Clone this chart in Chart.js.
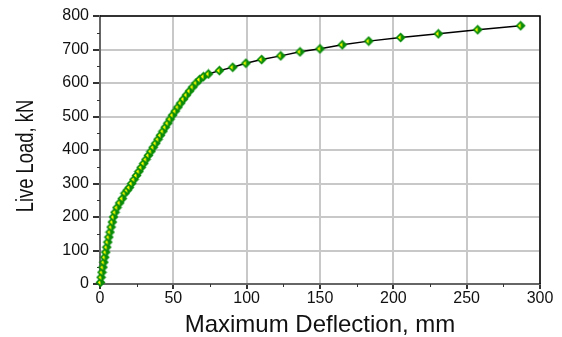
<!DOCTYPE html>
<html>
<head>
<meta charset="utf-8">
<script src="https://cdn.jsdelivr.net/npm/chart.js@4/dist/chart.umd.min.js"></script>
<style>
  html, body { margin: 0; padding: 0; background: #fff; }
</style>
</head>
<body>
<canvas id="grafico" width="562" height="337"></canvas>
<script>
// dados
const deflexao = [0.3, 0.8, 1.4, 2.0, 2.6, 3.2, 3.9, 4.6, 5.3, 6.0, 6.8, 7.6, 8.4, 9.2, 10.3, 11.6, 13.4, 15.2, 17.0, 18.6,
  20.0, 21.6, 23.2, 24.9, 26.5, 28.1, 29.8, 31.4, 33.0, 34.7, 36.3, 38.0, 39.6, 41.2, 42.9, 44.5, 46.2, 47.8, 49.5,
  51.3, 53.1, 55.0, 56.9, 58.9, 61.0, 63.2, 65.5, 67.8, 70.5, 73.9,
  81.4, 90.5, 99.5, 110.2, 123.2, 136.4, 150.0, 165.2, 183.2, 205.0, 230.7, 257.5, 286.8];
const carga = [5, 20, 35, 50, 65, 80, 95, 110, 125, 140, 155, 170, 185, 200, 214, 228, 242, 255, 271, 280,
  288, 300, 312, 324, 336, 348, 360, 372, 384, 396, 408, 420, 432, 444, 456, 468, 480, 492, 504,
  516, 528, 540, 552, 564, 576, 588, 600, 610, 619, 627,
  637, 647, 659, 670, 681, 693, 702, 714, 725, 736, 747, 759, 771];
const ticksX = [0, 50, 100, 150, 200, 250, 300];
const ticksY = [0, 100, 200, 300, 400, 500, 600, 700, 800];
const menoresX = [25, 75, 125, 175, 225, 275];
const menoresY = [50, 150, 250, 350, 450, 550, 650, 750];

// marcador: losango verde com triângulo amarelo
function marcador() {
  const c = document.createElement('canvas');
  c.width = 11; c.height = 11;
  const g = c.getContext('2d');
  g.fillStyle = '#0a8c0a';
  g.beginPath();
  g.moveTo(5.5, 0.5); g.lineTo(10.5, 5.5); g.lineTo(5.5, 10.5); g.lineTo(0.5, 5.5);
  g.closePath(); g.fill();
  g.fillStyle = '#ffff00';
  g.beginPath();
  g.moveTo(5.5, 3); g.lineTo(5.5, 8); g.lineTo(2.8, 5.5);
  g.closePath(); g.fill();
  return c;
}

const pontos = deflexao.map((v, i) => ({ x: v, y: carga[i] }));

// moldura, marcas menores e título do eixo y (estreito)
const moldura = {
  id: 'moldura',
  beforeDatasetsDraw(chart) {
    const { ctx, chartArea: a, scales: { x, y } } = chart;
    ctx.save();
    ctx.strokeStyle = '#000';
    ctx.lineWidth = 1.5;
    ctx.beginPath();
    ctx.moveTo(a.left, a.top);
    ctx.lineTo(a.right, a.top);
    ctx.lineTo(a.right, a.bottom);
    ctx.stroke();
    ctx.strokeStyle = '#333';
    ctx.lineWidth = 1;
    ctx.beginPath();
    menoresX.forEach(v => {
      const px = Math.round(x.getPixelForValue(v)) + 0.5;
      ctx.moveTo(px, a.bottom); ctx.lineTo(px, a.bottom + 3);
    });
    menoresY.forEach(v => {
      const py = Math.round(y.getPixelForValue(v)) + 0.5;
      ctx.moveTo(a.left, py); ctx.lineTo(a.left - 3, py);
    });
    ctx.stroke();
    ctx.restore();
  },
  afterDraw(chart) {
    const ctx = chart.ctx;
    ctx.save();
    ctx.translate(27, 156);
    ctx.rotate(-Math.PI / 2);
    ctx.scale(0.8, 1);
    ctx.fillStyle = '#111';
    ctx.font = '23px "Liberation Sans"';
    ctx.textAlign = 'center';
    ctx.textBaseline = 'middle';
    ctx.fillText('Live Load, kN', 0, 0);
    ctx.restore();
  }
};

const ctx = document.getElementById('grafico').getContext('2d');
new Chart(ctx, {
  type: 'scatter',
  data: {
    datasets: [{
      data: pontos,
      showLine: true,
      borderColor: '#000',
      borderWidth: 1.5,
      pointStyle: marcador(),
      pointRadius: 5,
      clip: false
    }]
  },
  options: {
    responsive: false,
    animation: false,
    layout: { padding: { top: 16, right: 22, left: 0, bottom: 0 } },
    plugins: { legend: { display: false }, tooltip: { enabled: false } },
    scales: {
      x: {
        type: 'linear', min: 0, max: 300,
        afterBuildTicks: s => { s.ticks = ticksX.map(v => ({ value: v })); },
        afterFit: s => { s.height = 53; },
        grid: { color: '#c8c8c8', lineWidth: 2, tickColor: '#333', tickLength: 5 },
        border: { color: '#666', width: 2 },
        ticks: { color: '#111', font: { family: 'Liberation Sans', size: 16 }, padding: 0 },
        title: { display: true, text: 'Maximum Deflection, mm', color: '#111',
                 font: { family: 'Liberation Sans', size: 24, lineHeight: 1 }, padding: { top: 0, bottom: 0 } }
      },
      y: {
        type: 'linear', min: 0, max: 800,
        afterBuildTicks: s => { s.ticks = ticksY.map(v => ({ value: v })); },
        afterFit: s => { s.width = 100; },
        grid: { color: '#c8c8c8', lineWidth: 2, tickColor: '#333', tickLength: 7 },
        border: { color: '#666', width: 2 },
        ticks: { color: '#111', font: { family: 'Liberation Sans', size: 16 }, padding: 4 }
      }
    }
  },
  plugins: [moldura]
});
</script>
</body>
</html>
